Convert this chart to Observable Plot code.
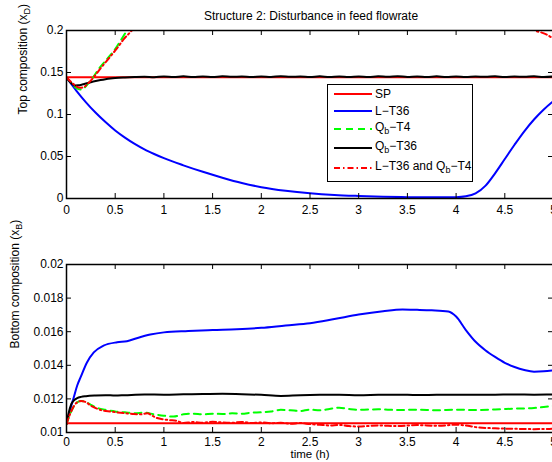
<!DOCTYPE html>
<html>
<head>
<meta charset="utf-8">
<script src="https://cdn.jsdelivr.net/npm/d3@7"></script>
<script src="https://cdn.jsdelivr.net/npm/@observablehq/plot@0.6"></script>
<style>
html, body { margin: 0; padding: 0; background: #fff; }
#wrap { position: relative; width: 552px; height: 462px; overflow: hidden; font-family: "Liberation Sans", Arial, sans-serif; color: #000; }
#title { position: absolute; left: 311px; top: 9px; transform: translateX(-50%); white-space: nowrap; font-size: 12px; line-height: 14px; }
#topPlot, #botPlot { position: absolute; left: 0; width: 560px; }
#topPlot svg, #botPlot svg { max-width: none !important; display: block; }
#topPlot { top: 0; }
#botPlot { top: 232px; }
#legend { position: absolute; left: 327px; top: 84px; width: 146px; height: 98px; box-sizing: border-box; border: 1px solid #000; background: #fff; }
.row { position: absolute; left: 0; height: 16px; width: 144px; }
.row svg { position: absolute; left: 5px; top: 0; }
.row span.lab { position: absolute; left: 47px; top: 0; font-size: 12px; line-height: 16px; white-space: nowrap; }
.sub { font-size: 9px; position: relative; top: 3px; }
</style>
</head>
<body>
<div id="wrap">
  <div id="topPlot"></div>
  <div id="botPlot"></div>
  <div id="title"></div>
  <div id="legend"></div>
</div>
<script>
// ---------- text ----------
const titleText = "Structure 2: Disturbance in feed flowrate";
const yLabelTop = "Top composition (x_D)";
const yLabelBot = "Bottom composition (x_B)";
const xLabel = "time (h)";

// ---------- ticks ----------
const xTicks = [0, 0.5, 1, 1.5, 2, 2.5, 3, 3.5, 4, 4.5, 5];
const yTicksTop = [0, 0.05, 0.1, 0.15, 0.2];
const yTicksBot = [0.01, 0.012, 0.014, 0.016, 0.018, 0.02];

// ---------- legend ----------
const seriesNames = ["SP", "L\u2212T36", "Q_b\u2212T4", "Q_b\u2212T36", "L\u2212T36 and Q_b\u2212T4"];
const seriesColors = ["#ff0000", "#0000ff", "#00ff00", "#000000", "#ff0000"];
const seriesDash = [null, null, "7,5", null, "6,3,1.5,3"];

// ---------- top plot data: [time h, x_D] ----------
const xdSP = [[0, 0.1442], [5, 0.1442]];
const xdLT36 = [[0,0.144],[0.1,0.1285],[0.2,0.1145],[0.3,0.102],[0.4,0.091],[0.5,0.081],[0.6,0.0725],[0.7,0.065],[0.8,0.0585],[0.9,0.053],[1.0,0.048],[1.2,0.0395],[1.4,0.0318],[1.6,0.0248],[1.8,0.0185],[2.0,0.0135],[2.25,0.0092],[2.5,0.0062],[2.75,0.0042],[3.0,0.003],[3.25,0.0021],[3.5,0.0016],[3.75,0.0014],[4.0,0.0016],[4.1,0.0026],[4.2,0.006],[4.3,0.015],[4.4,0.030],[4.5,0.047],[4.6,0.064],[4.7,0.080],[4.8,0.094],[4.9,0.106],[5.0,0.116]];
const xdQbT4 = [[0,0.144],[0.05,0.1375],[0.1,0.1315],[0.14,0.1298],[0.18,0.1315],[0.22,0.1365],[0.26,0.142],[0.33,0.154],[0.43,0.168],[0.5,0.178],[0.55,0.187],[0.62,0.2],[0.7,0.215]];
const xdQbT36 = [[0,0.144],[0.03,0.1395],[0.06,0.1362],[0.09,0.1345],[0.12,0.1347],[0.16,0.1356],[0.2,0.1368],[0.25,0.1384],[0.3,0.1398],[0.35,0.141],[0.4,0.142],[0.45,0.1428],[0.5,0.1434],[0.6,0.1441],[0.7,0.1446],[0.8,0.1449],[0.9,0.1444],[1.0,0.1452],[1.1,0.1446],[1.2,0.1454],[1.3,0.1447],[1.4,0.1453],[1.5,0.1445],[1.6,0.1455],[1.7,0.1448],[1.8,0.1453],[1.9,0.1446],[2.0,0.1452],[2.1,0.1447],[2.2,0.1455],[2.3,0.1448],[2.4,0.1453],[2.5,0.1446],[2.6,0.1454],[2.7,0.1447],[2.8,0.1452],[2.9,0.1445],[3.0,0.1453],[3.1,0.1447],[3.2,0.1454],[3.3,0.1448],[3.4,0.1456],[3.5,0.1446],[3.6,0.1453],[3.7,0.1447],[3.8,0.1454],[3.9,0.1446],[4.0,0.1452],[4.1,0.1447],[4.2,0.1453],[4.3,0.1448],[4.4,0.1455],[4.5,0.1446],[4.6,0.1453],[4.7,0.1448],[4.8,0.1454],[4.9,0.1447],[5.0,0.1452]];
const xdBothA = [[0,0.144],[0.05,0.1385],[0.1,0.1335],[0.14,0.1318],[0.18,0.1328],[0.23,0.138],[0.28,0.1445],[0.35,0.155],[0.45,0.169],[0.52,0.179],[0.59,0.19],[0.67,0.2],[0.75,0.213]];
const xdBothB = [[4.76,0.206],[4.82,0.1995],[4.88,0.1975],[4.94,0.1945],[5.0,0.19]];

// ---------- bottom plot data: [time h, x_B] ----------
const xbSP = [[0, 0.01055], [5, 0.01055]];
const xbLT36 = [[0,0.0105],[0.03,0.0112],[0.075,0.0121],[0.11,0.0128],[0.144,0.01328],[0.21,0.01417],[0.28,0.01477],[0.38,0.01517],[0.52,0.01537],[0.62,0.01543],[0.73,0.01563],[0.86,0.01583],[1.0,0.01596],[1.25,0.01604],[1.5,0.0161],[1.75,0.01615],[2.0,0.01623],[2.25,0.01637],[2.5,0.0165],[2.75,0.01675],[3.0,0.01702],[3.25,0.01722],[3.45,0.01732],[3.6,0.0173],[3.75,0.01727],[3.92,0.0172],[4.0,0.0169],[4.1,0.0161],[4.2,0.0154],[4.3,0.0149],[4.4,0.0145],[4.5,0.01415],[4.6,0.0139],[4.7,0.01372],[4.8,0.01362],[4.9,0.01364],[5.0,0.0137]];
const xbQbT4 = [[0,0.0105],[0.03,0.0110],[0.06,0.0114],[0.1,0.01175],[0.15,0.01188],[0.2,0.0118],[0.25,0.01165],[0.3,0.0115],[0.4,0.01135],[0.5,0.01125],[0.6,0.0112],[0.7,0.01115],[0.8,0.01118],[0.9,0.01108],[1.0,0.011],[1.1,0.01095],[1.2,0.01108],[1.3,0.01112],[1.4,0.01108],[1.5,0.01112],[1.6,0.0111],[1.7,0.01114],[1.8,0.01112],[1.9,0.01118],[2.0,0.0112],[2.1,0.01125],[2.2,0.01135],[2.3,0.01132],[2.4,0.01128],[2.5,0.01136],[2.6,0.01132],[2.7,0.0114],[2.8,0.01148],[2.9,0.0114],[3.0,0.01135],[3.2,0.01138],[3.4,0.01134],[3.6,0.01136],[3.8,0.01132],[4.0,0.01136],[4.2,0.01134],[4.4,0.01137],[4.6,0.01142],[4.8,0.01146],[4.9,0.01152],[5.0,0.01158]];
const xbQbT36 = [[0,0.0105],[0.02,0.0111],[0.05,0.0117],[0.08,0.01193],[0.11,0.01205],[0.15,0.01212],[0.2,0.01216],[0.3,0.0122],[0.4,0.01222],[0.5,0.0122],[0.6,0.01222],[0.8,0.01226],[1.0,0.01225],[1.2,0.01227],[1.4,0.01229],[1.6,0.0123],[1.8,0.01228],[2.0,0.01224],[2.2,0.01218],[2.4,0.01222],[2.6,0.01224],[2.8,0.01225],[3.0,0.01222],[3.2,0.01224],[3.4,0.01225],[3.6,0.01223],[3.8,0.01224],[4.0,0.01225],[4.2,0.01224],[4.4,0.01225],[4.6,0.01226],[4.8,0.01225],[5.0,0.01226]];
const xbBoth = [[0,0.0105],[0.03,0.011],[0.06,0.0114],[0.1,0.01175],[0.15,0.01188],[0.2,0.0118],[0.25,0.0116],[0.3,0.01145],[0.38,0.0113],[0.45,0.01125],[0.52,0.0112],[0.6,0.01115],[0.69,0.0111],[0.76,0.01108],[0.83,0.01114],[0.88,0.011],[0.93,0.01086],[1.0,0.01078],[1.05,0.01074],[1.13,0.0107],[1.2,0.01056],[1.3,0.01062],[1.4,0.01058],[1.5,0.01064],[1.6,0.0106],[1.7,0.01058],[1.8,0.01063],[1.9,0.01057],[2.0,0.0106],[2.1,0.01055],[2.2,0.01058],[2.3,0.01052],[2.4,0.01056],[2.5,0.0105],[2.6,0.01046],[2.7,0.01042],[2.8,0.01045],[2.9,0.01038],[3.0,0.01036],[3.2,0.01042],[3.4,0.01038],[3.6,0.01044],[3.8,0.0104],[4.0,0.01046],[4.1,0.01042],[4.2,0.01032],[4.4,0.01025],[4.6,0.01022],[4.8,0.0102],[5.0,0.01022]];

// ---------- drawing ----------
const FONT = "Liberation Sans, Arial, sans-serif";
const W = 560, ML = 66, MR = 7;
const innerW = W - ML - MR;
const innerH = 168;
const TICK = 5;
const fmt = d => String(d);

function lineMark(data, i) {
  return Plot.line(data, {
    x: d => d[0], y: d => d[1],
    stroke: seriesColors[i], strokeWidth: 2,
    strokeDasharray: seriesDash[i] || undefined,
    curve: "monotone-x",
    clip: true
  });
}

function frameMarks(yTicks, yLabel, yLabelDx, xPad) {
  return [
    Plot.frame({stroke: "#000", strokeWidth: 1.5}),
    Plot.tickX(xTicks, {x: d => d, insetTop: innerH - TICK, stroke: "#000", strokeWidth: 1}),
    Plot.tickX(xTicks, {x: d => d, insetBottom: innerH - TICK, stroke: "#000", strokeWidth: 1}),
    Plot.tickY(yTicks, {y: d => d, insetRight: innerW - TICK, stroke: "#000", strokeWidth: 1}),
    Plot.tickY(yTicks, {y: d => d, insetLeft: innerW - TICK, stroke: "#000", strokeWidth: 1}),
    Plot.axisX({ticks: xTicks, tickSize: 0, tickPadding: xPad, tickFormat: fmt, label: null, fontSize: 12}),
    Plot.axisY({ticks: yTicks, tickSize: 0, tickPadding: 3, tickFormat: fmt, label: null, fontSize: 12}),
    Plot.text([yLabel], {text: d => d, frameAnchor: "left", rotate: -90, dx: yLabelDx, fontSize: 12, fill: "#000"})
  ];
}

function addSubscripts(svg) {
  d3.select(svg).selectAll("text").each(function () {
    const t = this.textContent;
    const m = t.match(/^(.*)_(\w)(.*)$/);
    if (!m) return;
    const sel = d3.select(this);
    this.textContent = "";
    sel.append("tspan").text(m[1]);
    sel.append("tspan").attr("dy", 3).attr("font-size", 9).text(m[2]);
    sel.append("tspan").attr("dy", -3).text(m[3]);
  });
}

function place(svg, id) {
  svg.style.maxWidth = "none";
  svg.setAttribute("width", W);
  addSubscripts(svg);
  document.getElementById(id).appendChild(svg);
}

const topPlot = Plot.plot({
  width: W, height: 220,
  marginLeft: ML, marginRight: MR, marginTop: 30, marginBottom: 22,
  style: {fontFamily: FONT, fontSize: "12px", color: "#000", background: "transparent", overflow: "visible", maxWidth: "none"},
  x: {domain: [0, 5]},
  y: {domain: [0, 0.2]},
  marks: [
    lineMark(xdSP, 0),
    lineMark(xdLT36, 1),
    lineMark(xdQbT4, 2),
    lineMark(xdQbT36, 3),
    lineMark(xdBothA, 4),
    lineMark(xdBothB, 4),
    ...frameMarks(yTicksTop, yLabelTop, -43, 7)
  ]
});
place(topPlot, "topPlot");

const botPlot = Plot.plot({
  width: W, height: 230,
  marginLeft: ML, marginRight: MR, marginTop: 32, marginBottom: 30,
  style: {fontFamily: FONT, fontSize: "12px", color: "#000", background: "transparent", overflow: "visible", maxWidth: "none"},
  x: {domain: [0, 5]},
  y: {domain: [0.01, 0.02]},
  marks: [
    lineMark(xbSP, 0),
    lineMark(xbLT36, 1),
    lineMark(xbQbT4, 2),
    lineMark(xbQbT36, 3),
    lineMark(xbBoth, 4),
    ...frameMarks(yTicksBot, yLabelBot, -51, 5),
    Plot.text([xLabel], {text: d => d, frameAnchor: "bottom", dy: 25.5, fontSize: 11.5, fill: "#000"})
  ]
});
place(botPlot, "botPlot");

// title
document.getElementById("title").textContent = titleText;

// legend (HTML box, swatches styled from the series arrays)
const legendLineY = [10, 27, 45, 64, 84];
const legend = d3.select("#legend");
seriesNames.forEach((name, i) => {
  const row = legend.append("div").attr("class", "row").style("top", (legendLineY[i] - 8 - 1) + "px");
  const sw = row.append("svg").attr("width", 40).attr("height", 16);
  sw.append("line").attr("x1", 1).attr("x2", 39).attr("y1", 8).attr("y2", 8)
    .attr("stroke", seriesColors[i]).attr("stroke-width", 2)
    .attr("stroke-dasharray", seriesDash[i]);
  const lab = row.append("span").attr("class", "lab");
  const parts = name.split(/_(\w)/);
  if (parts.length > 1) lab.style("top", "-2px");
  parts.forEach((p, k) => {
    if (k % 2 === 1) lab.append("span").attr("class", "sub").text(p);
    else lab.append("span").text(p);
  });
});
</script>
</body>
</html>
